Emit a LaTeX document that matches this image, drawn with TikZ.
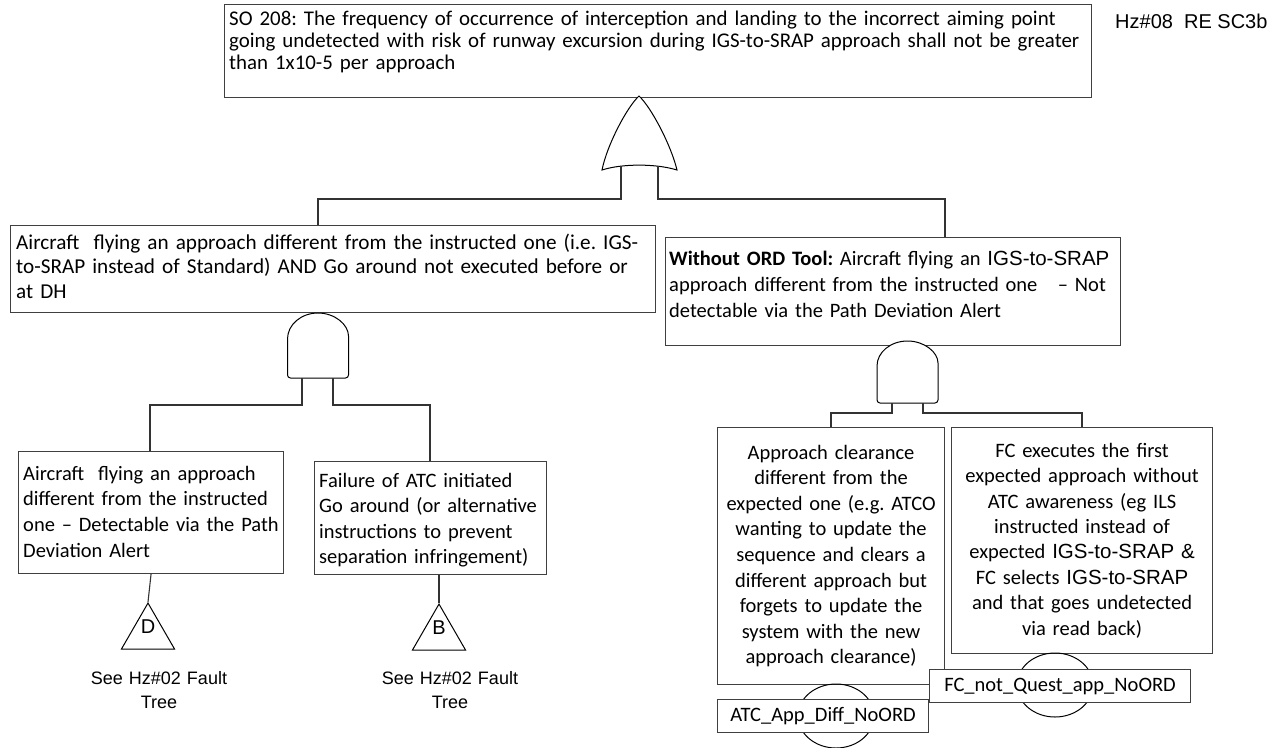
\documentclass[tikz,border=0pt]{standalone}
\usepackage{fontspec}
\newfontfamily\calfont{Carlito}
\newfontfamily\arifont{Liberation Sans}
\usetikzlibrary{shapes.geometric}
\frenchspacing
\begin{document}
\begin{tikzpicture}[x=1pt,y=-1pt,
  box/.style={draw=black!75, line width=1.1pt, fill=white, inner sep=0pt, anchor=north west},
  lbl/.style={draw=black!75, line width=1.1pt, fill=white, inner sep=0pt, anchor=north west,
              font=\calfont\fontsize{20.5}{24}\selectfont},
  wire/.style={draw=black!80, line width=1.1pt},
  gate/.style={draw=black, line width=1pt, fill=white},
  txt/.style={inner sep=0pt, anchor=base west, align=left, font=\calfont\fontsize{20.5}{25.5}\selectfont},
  ctxt/.style={inner sep=0pt, anchor=center, align=center, font=\calfont\fontsize{20.5}{25.6}\selectfont},
  note/.style={inner sep=0pt, anchor=base, align=center, text width=170pt, font=\arifont\fontsize{18}{24}\selectfont},
  tri/.style={draw=black, line width=1pt, regular polygon, regular polygon sides=3, minimum size=61.3pt, inner sep=0pt},
  basic/.style={draw=black, line width=1pt, ellipse, minimum width=76pt, minimum height=64pt, inner sep=0pt}
]
\useasboundingbox (0,0) rectangle (1279,747);
\fill[white] (0,0) rectangle (1279,747);

% ---- top event ----
\node[box, minimum width=867pt, minimum height=93pt] (top) at (224,4) {};
\node[txt, text width=1000pt, font=\calfont\fontsize{20.9}{22}\selectfont] (toptext) at (229,25)
  {SO 208: The frequency of occurrence of interception and landing to the incorrect aiming point\\
   going undetected with risk of runway excursion during IGS-to-SRAP approach shall not be greater\\
   than 1x10-5 per approach};
\node[inner sep=0pt, anchor=west, font=\arifont\fontsize{20}{24}\selectfont] (hz) at (1115,21) {Hz\#08\ \ RE SC3b};

% ---- OR gate ----
\draw[gate] (639,96) .. controls (651,107) and (671,145) .. (677,170)
   .. controls (656,163.5) and (622,163.5) .. (602,170)
   .. controls (607,145) and (627,107) .. (639,96) -- cycle;
\coordinate (or-a) at (621,166);
\coordinate (or-b) at (658,166);
\coordinate (j1) at (318,199);
\coordinate (j2) at (945,199);

% ---- intermediate events ----
\node[box, minimum width=645pt, minimum height=87pt] (lm) at (10,225) {};
\node[txt, text width=700pt, font=\calfont\fontsize{21.2}{24.5}\selectfont] (lmtext) at (16,249)
  {Aircraft\ \ flying an approach different from the instructed one (i.e. IGS-\\
   to-SRAP instead of Standard) AND Go around not executed before or\\
   at DH};

\node[box, minimum width=455pt, minimum height=108pt] (rm) at (665,237) {};
\node[txt, text width=450pt, font=\calfont\fontsize{20.5}{26}\selectfont] (rmtext) at (669,265)
  {\textbf{Without ORD Tool:} Aircraft flying an {\arifont IGS-to-SRAP}\\
   approach different from the instructed one\ \ \ – Not\\
   detectable via the Path Deviation Alert};

\draw[wire] (or-a) |- (j1) -- (j1 |- lm.north);
\draw[wire] (or-b) |- (j2) -- (j2 |- rm.north);

% ---- AND gates ----
\draw[gate] (348.5,339) arc[start angle=0, end angle=180, x radius=30.5pt, y radius=26pt]
   [rounded corners=3pt] -- (287.5,378) -- (348.5,378) -- cycle;
\coordinate (and1-a) at (302,378);
\coordinate (and1-b) at (333,378);
\draw[gate] (938,366) arc[start angle=0, end angle=180, x radius=30.5pt, y radius=25pt]
   [rounded corners=3pt] -- (877,403) -- (938,403) -- cycle;
\coordinate (and2-a) at (892,403);
\coordinate (and2-b) at (923,403);
\coordinate (j3) at (150,405);
\coordinate (j4) at (430,405);
\coordinate (j5) at (831,413);
\coordinate (j6) at (1082,413);

% ---- lower events ----
\node[box, minimum width=265pt, minimum height=122pt] (lb) at (18,451) {};
\node[txt, text width=260pt, font=\calfont\fontsize{20.5}{25.7}\selectfont] (lbtext) at (23,480)
  {Aircraft\ \ flying an approach\\
   different from the instructed\\
   one – Detectable via the Path\\
   Deviation Alert};

\node[box, minimum width=232pt, minimum height=113pt] (mb) at (314,461) {};
\node[txt, text width=228pt] (mbtext) at (319,487)
  {Failure of ATC initiated\\
   Go around (or alternative\\
   instructions to prevent\\
   separation infringement)};

\node[box, minimum width=227pt, minimum height=257pt] (atc) at (717,427) {};
\node[ctxt, text width=222pt] (atctext) at (atc.center)
  {Approach clearance\\
   different from the\\
   expected one (e.g. ATCO\\
   wanting to update the\\
   sequence and clears a\\
   different approach but\\
   forgets to update the\\
   system with the new\\
   approach clearance)};

\node[box, minimum width=261pt, minimum height=226pt] (fc) at (951,427) {};
\node[ctxt, text width=256pt, font=\calfont\fontsize{20.5}{25.4}\selectfont] (fctext) at (fc.center)
  {FC executes the first\\
   expected approach without\\
   ATC awareness (eg ILS\\
   instructed instead of\\
   expected {\arifont IGS-to-SRAP \&}\\
   FC selects {\arifont IGS-to-SRAP}\\
   and that goes undetected\\
   via read back)};

\draw[wire] (and1-a) |- (j3) -- (j3 |- lb.north);
\draw[wire] (and1-b) |- (j4) -- (j4 |- mb.north);
\draw[wire] (and2-a) |- (j5) -- (j5 |- atc.north);
\draw[wire] (and2-b) |- (j6) -- (j6 |- fc.north);

% ---- transfer triangles ----
\node[tri] (triD) at (148,633.7) {};
\node[tri] (triB) at (439,634.7) {};
\node[inner sep=0pt, font=\arifont\fontsize{20}{24}\selectfont] (dlab) at (148,627) {D};
\node[inner sep=0pt, font=\arifont\fontsize{20}{24}\selectfont] (blab) at (439,628) {B};
\draw[wire] (lb.south) -- (triD.corner 1);
\draw[wire] (triB.corner 1 |- mb.south) -- (triB.corner 1);
\node[note] (noteD) at (159,684) {See Hz\#02 Fault\\Tree};
\node[note] (noteB) at (450,684) {See Hz\#02 Fault\\Tree};

% ---- basic events ----
\node[basic] (atcev) at (836,716) {};
\node[basic] (fcev) at (1055,685) {};
\node[lbl, minimum width=211pt, minimum height=33pt] (atclbl) at (717,699) {ATC\_App\_Diff\_NoORD};
\node[lbl, minimum width=261pt, minimum height=33pt] (fclbl) at (929,669) {FC\_not\_Quest\_app\_NoORD};

\end{tikzpicture}
\end{document}
